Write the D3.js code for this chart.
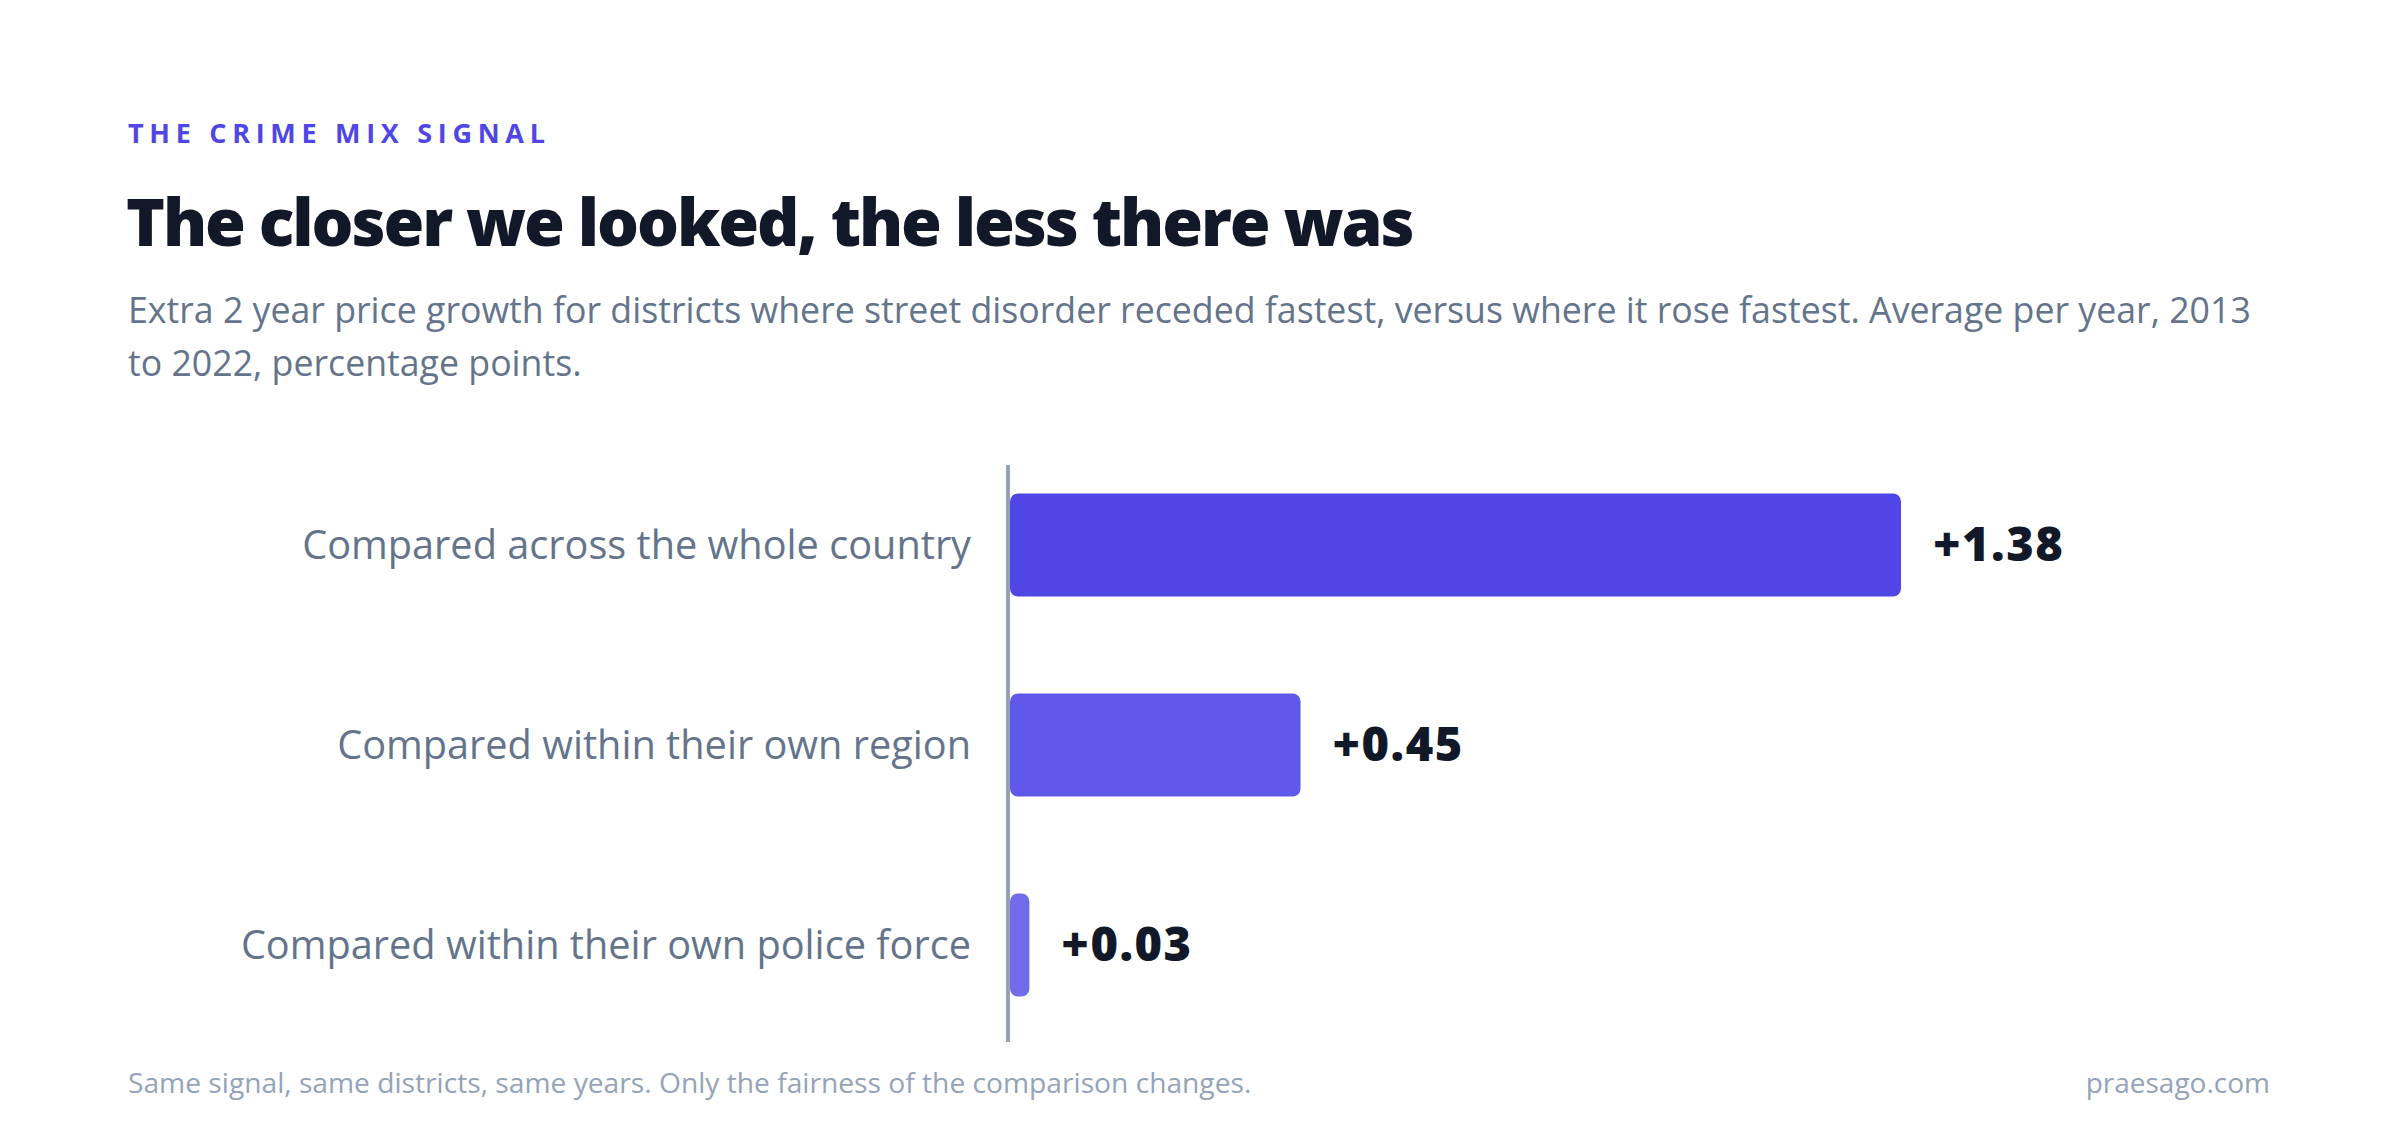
<!DOCTYPE html>
<html>
<head>
<meta charset="utf-8">
<script src="https://cdn.jsdelivr.net/npm/d3@7"></script>
<style>
  html, body { margin: 0; padding: 0; background: #fff; }
  svg { display: block; }
</style>
</head>
<body>
<div id="root"></div>
<script>
// data
var categories = [
  "Compared across the whole country",
  "Compared within their own region",
  "Compared within their own police force"
];
var values = [1.38, 0.45, 0.03];
var barOpacity = [1, 0.9, 0.8];
var valueLabels = ["+1.38", "+0.45", "+0.03"];

var kicker = "THE CRIME MIX SIGNAL";
var title = "The closer we looked, the less there was";
var subtitle = [
  "Extra 2 year price growth for districts where street disorder receded fastest, versus where it rose fastest. Average per year, 2013",
  "to 2022, percentage points."
];
var footnote = "Same signal, same districts, same years. Only the fairness of the comparison changes.";
var credit = "praesago.com";

var W = 2400, H = 1142;
var font = "'Segoe UI', 'Open Sans', 'Noto Sans', sans-serif";

var svg = d3.select("#root").append("svg")
  .attr("width", W)
  .attr("height", H);

// header
svg.append("text")
  .attr("x", 128).attr("y", 143)
  .style("font-family", font)
  .style("font-weight", 700)
  .style("font-size", "27px")
  .style("letter-spacing", "5.7px")
  .style("fill", "#4f46e5")
  .text(kicker);

svg.append("text")
  .attr("x", 126).attr("y", 246)
  .style("font-family", font)
  .style("font-weight", 800)
  .style("font-size", "66px")
  .style("letter-spacing", "-2.1px")
  .style("fill", "#111827")
  .text(title);

svg.selectAll("text.sub")
  .data(subtitle)
  .enter().append("text")
  .attr("class", "sub")
  .attr("x", 128)
  .attr("y", function(d, i) { return 323 + i * 53; })
  .style("font-family", font)
  .style("font-size", "35.7px")
  .style("fill", "#64748b")
  .text(function(d) { return d; });

// scales
var x = d3.scaleLinear()
  .domain([0, d3.max(values)])
  .range([1010, 1901]);

var y = d3.scaleBand()
  .domain(categories)
  .range([445, 1045])
  .paddingInner(0.485)
  .paddingOuter(0.2425);

var g = svg.append("g").attr("class", "bars");

g.selectAll("rect")
  .data(values)
  .enter().append("rect")
  .attr("x", x(0))
  .attr("y", function(d, i) { return y(categories[i]); })
  .attr("width", function(d) { return x(d) - x(0); })
  .attr("height", y.bandwidth())
  .attr("rx", 8).attr("ry", 8)
  .style("fill", "#4f46e5")
  .style("fill-opacity", function(d, i) { return barOpacity[i]; });

// baseline
svg.append("line")
  .attr("x1", 1008).attr("x2", 1008)
  .attr("y1", 465).attr("y2", 1042)
  .style("stroke", "#94a3b8")
  .style("stroke-width", 4);

// category labels
svg.selectAll("text.cat")
  .data(categories)
  .enter().append("text")
  .attr("class", "cat")
  .attr("x", 971)
  .attr("y", function(d) { return y(d) + y.bandwidth() / 2; })
  .attr("dy", "0.35em")
  .attr("text-anchor", "end")
  .style("font-family", font)
  .style("font-size", "39.7px")
  .style("fill", "#64748b")
  .text(function(d) { return d; });

// value labels
svg.selectAll("text.val")
  .data(values)
  .enter().append("text")
  .attr("class", "val")
  .attr("x", function(d) { return x(d) + 32; })
  .attr("y", function(d, i) { return y(categories[i]) + y.bandwidth() / 2; })
  .attr("dy", "0.35em")
  .style("font-family", font)
  .style("font-weight", 800)
  .style("font-size", "47px")
  .style("letter-spacing", "1.5px")
  .style("fill", "#111827")
  .text(function(d, i) { return valueLabels[i]; });

// footer
svg.append("text")
  .attr("x", 128).attr("y", 1093)
  .style("font-family", font)
  .style("font-size", "28.2px")
  .style("fill", "#94a3b8")
  .text(footnote);

svg.append("text")
  .attr("x", 2270).attr("y", 1093)
  .attr("text-anchor", "end")
  .style("font-family", font)
  .style("font-size", "28px")
  .style("fill", "#94a3b8")
  .text(credit);
</script>
</body>
</html>
